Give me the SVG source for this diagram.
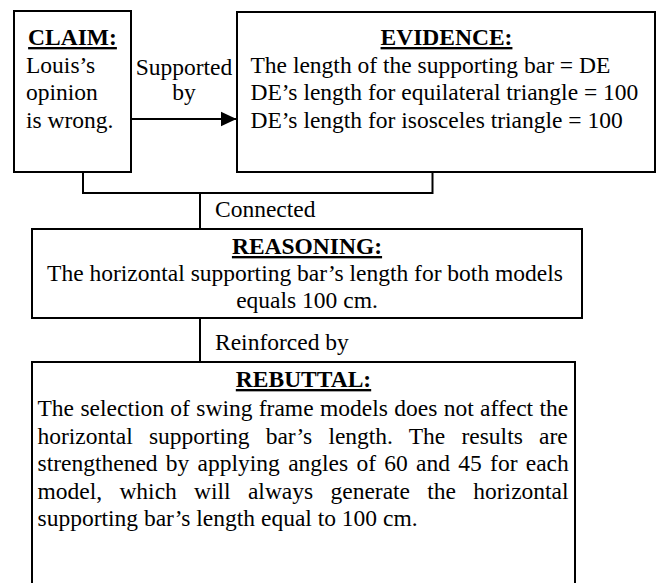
<svg xmlns="http://www.w3.org/2000/svg" width="659" height="583" viewBox="0 0 659 583">
  <style>
    .box { fill: #ffffff; stroke: #000000; stroke-width: 2; }
    .wire { fill: none; stroke: #000000; stroke-width: 2; }
    text { font-family: "Liberation Serif", "Times New Roman", serif; font-size: 23.5px; fill: #000000; }
    .head { font-weight: bold; text-decoration: underline; text-anchor: middle; }
    .mid { text-anchor: middle; }
  </style>
  <defs>
    <marker id="arrow" markerUnits="userSpaceOnUse" markerWidth="16" markerHeight="16" refX="16" refY="8" orient="auto">
      <path d="M0,0.5 L16,8 L0,15.5 Z" fill="#000000"/>
    </marker>
  </defs>

  <rect width="659" height="583" fill="#ffffff"/>

  <!-- connectors -->
  <g id="connectors">
    <path class="wire" d="M131,119 H236.5" marker-end="url(#arrow)"/>
    <path class="wire" d="M83,172 V193 H432.5 V172"/>
    <path class="wire" d="M200,193 V229"/>
    <path class="wire" d="M200,318 V362"/>
    <text x="184" y="75" class="mid">Supported</text>
    <text x="184" y="100" class="mid">by</text>
    <text x="215" y="216.5">Connected</text>
    <text x="215" y="349.5">Reinforced by</text>
  </g>

  <!-- claim -->
  <g id="claim">
    <rect class="box" x="14" y="11" width="117" height="161"/>
    <text x="72.5" y="45" class="head">CLAIM:</text>
    <text x="26" y="72.5">Louis’s</text>
    <text x="26" y="100">opinion</text>
    <text x="26" y="127.5">is wrong.</text>
  </g>

  <!-- evidence -->
  <g id="evidence">
    <rect class="box" x="237" y="12" width="418" height="160"/>
    <text x="446.5" y="45" class="head">EVIDENCE:</text>
    <text x="250.5" y="72.5">The length of the supporting bar = DE</text>
    <text x="250.5" y="100">DE’s length for equilateral triangle = 100</text>
    <text x="250.5" y="127.5">DE’s length for isosceles triangle = 100</text>
  </g>

  <!-- reasoning -->
  <g id="reasoning">
    <rect class="box" x="32" y="229" width="550" height="89"/>
    <text x="307" y="254" class="head">REASONING:</text>
    <text x="305" y="281" class="mid">The horizontal supporting bar’s length for both models</text>
    <text x="307" y="308" class="mid">equals 100 cm.</text>
  </g>

  <!-- rebuttal (justified paragraph) -->
  <g id="rebuttal">
    <rect class="box" x="32" y="362" width="543" height="240"/>
    <text x="303.5" y="387" class="head">REBUTTAL:</text>
    <text x="37.5" y="416" word-spacing="0.5">The selection of swing frame models does not affect the</text>
    <text x="37.5" y="443.5" word-spacing="10.3">horizontal supporting bar’s length. The results are</text>
    <text x="37.5" y="471" word-spacing="2.4">strengthened by applying angles of 60 and 45 for each</text>
    <text x="37.5" y="498.5" word-spacing="11.4">model, which will always generate the horizontal</text>
    <text x="37.5" y="526">supporting bar’s length equal to 100 cm.</text>
  </g>
</svg>
